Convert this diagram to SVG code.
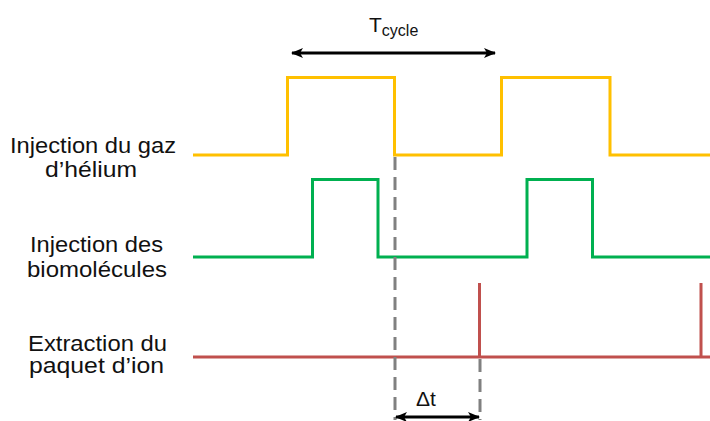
<svg xmlns="http://www.w3.org/2000/svg" width="710" height="421" viewBox="0 0 710 421">
<defs>
<marker id="ah" viewBox="0 0 12 10" refX="11" refY="5" markerWidth="12" markerHeight="10" markerUnits="userSpaceOnUse" orient="auto-start-reverse">
<path d="M0,0 L12,5 L0,10 L3,5 Z" fill="#000"/>
</marker>
</defs>
<style>
.lbl{font-family:"Liberation Sans",Arial,sans-serif;font-size:21.5px;fill:#111}
.sig{fill:none;stroke-width:3;stroke-linejoin:miter}
.dash{stroke:#808080;stroke-width:3;stroke-dasharray:13 7;fill:none}
.arr{stroke:#000;stroke-width:3;fill:none}
</style>
<rect width="710" height="421" fill="#fff"/>
<g id="label-helium"><text class="lbl" x="10" y="153" textLength="166" lengthAdjust="spacingAndGlyphs">Injection du gaz</text><text class="lbl" x="45" y="177" textLength="92" lengthAdjust="spacingAndGlyphs">d’hélium</text></g>
<g id="label-bio"><text class="lbl" x="30" y="252" textLength="133" lengthAdjust="spacingAndGlyphs">Injection des</text><text class="lbl" x="27" y="277" textLength="140" lengthAdjust="spacingAndGlyphs">biomolécules</text></g>
<g id="label-ext"><text class="lbl" x="28" y="351" textLength="139" lengthAdjust="spacingAndGlyphs">Extraction du</text><text class="lbl" x="29" y="373" textLength="135" lengthAdjust="spacingAndGlyphs">paquet d’ion</text></g>
<g id="signal-helium"><path class="sig" stroke="#FFC000" d="M193,155 H287.5 V77.5 H394.5 V155 H501.5 V77.5 H610 V155 H710"/></g>
<g id="signal-bio"><path class="sig" stroke="#00B050" d="M193,257 H312.5 V179.5 H378 V257 H527 V179.5 H592.5 V257 H710"/></g>
<g id="signal-ext"><path class="sig" stroke="#C0504D" d="M193,357 H710 M479.5,357 V283 M701,357 V283"/></g>
<g id="connectors">
<line class="dash" x1="395" y1="157" x2="395" y2="420"/>
<line class="dash" x1="480" y1="359" x2="480" y2="420"/>
<line class="arr" x1="292" y1="53" x2="495" y2="53" marker-start="url(#ah)" marker-end="url(#ah)"/>
<line class="arr" x1="396" y1="417" x2="479" y2="417" marker-start="url(#ah)" marker-end="url(#ah)"/>
</g>
<g id="label-tcycle"><text font-family="Liberation Sans,Arial,sans-serif" font-size="21" fill="#111" x="369" y="32">T<tspan font-size="16" dy="4">cycle</tspan></text></g>
<g id="label-dt"><text font-family="Liberation Sans,Arial,sans-serif" font-size="21" fill="#111" x="416" y="406">Δt</text></g>
</svg>
